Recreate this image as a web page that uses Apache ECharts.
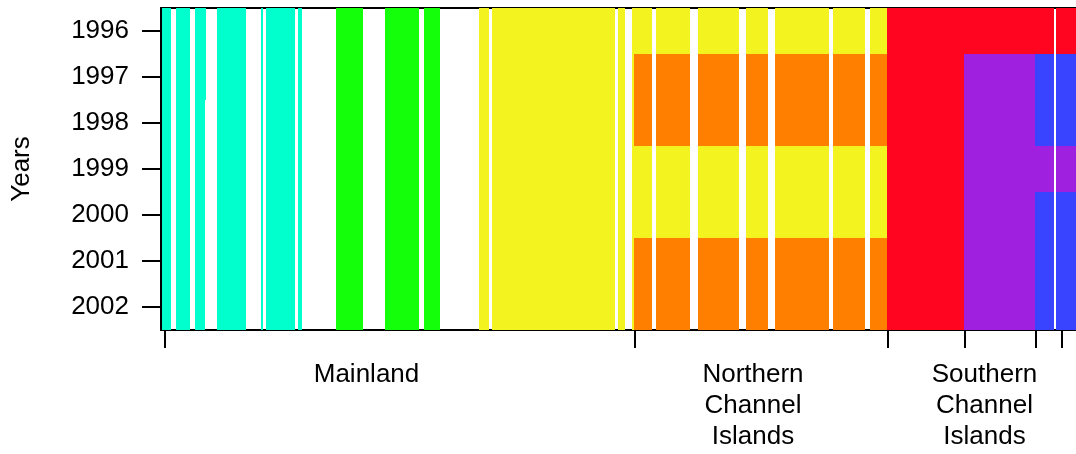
<!DOCTYPE html>
<html>
<head>
<meta charset="utf-8">
<script src="https://cdn.jsdelivr.net/npm/echarts@6/dist/echarts.min.js"></script>
<style>
html,body{margin:0;padding:0;background:#fff;}
#chart{width:1076px;height:454px;}
</style>
</head>
<body>
<div id="chart"></div>
<script>
// Years (rows, top to bottom)
var years = ['1996','1997','1998','1999','2000','2001','2002'];

// Site columns along the coast: start / end positions (arbitrary coast units) and pattern name
var colStart = [1, 15, 34, 44, 56, 100, 105, 137,
                175, 224, 263,
                318, 331, 457, 471,
                473, 495, 537, 585, 614, 672, 709,
                726,
                803,
                874, 895];
var colEnd   = [10, 29, 44, 45, 85, 102, 134, 141,
                202, 258, 279,
                328, 454, 464, 473,
                491, 529, 578, 607, 668, 704, 726,
                803,
                874,
                893, 915];
var colPattern = ['cyan','cyan','cyan','cyanTop','cyan','cyan','cyan','cyan',
                  'green','green','green',
                  'yellow','yellow','yellow','yellow',
                  'north','north','north','north','north','north','north',
                  'red',
                  'south1',
                  'south2','south2'];

// Group per year for each pattern (index into groupColors, -1 = no data)
var patterns = {
  cyan:    [0,0,0,0,0,0,0],
  cyanTop: [0,0,-1,-1,-1,-1,-1],
  green:   [1,1,1,1,1,1,1],
  yellow:  [2,2,2,2,2,2,2],
  north:   [2,3,3,2,2,3,3],
  red:     [4,4,4,4,4,4,4],
  south1:  [4,5,5,5,5,5,5],
  south2:  [4,6,6,5,6,6,6]
};
var groupColors = ['#00FFCC','#14FF0A','#F3F31F','#FF7F00','#FF0520','#A020E0','#3844FF'];

// Region boundary ticks and region labels
var boundaryTicks = [4, 474, 727, 804, 875, 901];
var regionPos = [205.5, 592, 823.5];
var regionNames = ['Mainland', 'Northern\nChannel\nIslands', 'Southern\nChannel\nIslands'];

var cells = [];
for (var i = 0; i < colStart.length; i++) {
  var p = patterns[colPattern[i]];
  for (var y = 0; y < years.length; y++) {
    if (p[y] >= 0) cells.push([colStart[i], colEnd[i], y, p[y]]);
  }
}

var font = '"Liberation Sans", Arial, Helvetica, sans-serif';
var chart = echarts.init(document.getElementById('chart'), null, {renderer: 'canvas'});
chart.setOption({
  animation: false,
  backgroundColor: '#ffffff',
  grid: {left: 161, right: 0, top: 8, bottom: 124, containLabel: false},
  xAxis: [{
    type: 'value', min: 0, max: 915, position: 'bottom',
    splitLine: {show: false},
    axisLine: {show: true, onZero: false, lineStyle: {color: '#000', width: 2}},
    axisTick: {show: true, length: 18, lineStyle: {color: '#000', width: 2}, customValues: boundaryTicks},
    axisLabel: {
      show: true, customValues: regionPos, margin: 29, hideOverlap: false,
      fontFamily: font, fontSize: 26, color: '#000', lineHeight: 31, align: 'center',
      formatter: function (v) {
        for (var k = 0; k < regionPos.length; k++) if (Math.abs(regionPos[k] - v) < 0.01) return regionNames[k];
        return '';
      }
    }
  }, {
    type: 'value', min: 0, max: 915, position: 'top',
    splitLine: {show: false},
    axisLine: {show: true, onZero: false, lineStyle: {color: '#000', width: 2}},
    axisTick: {show: false}, axisLabel: {show: false}
  }],
  yAxis: {
    type: 'category', data: years, inverse: true,
    name: 'Years', nameLocation: 'middle', nameGap: 126, nameRotate: 90,
    nameTextStyle: {fontFamily: font, fontSize: 26, color: '#000'},
    axisLine: {show: true, lineStyle: {color: '#000', width: 2}},
    axisTick: {show: true, alignWithLabel: true, length: 19, lineStyle: {color: '#000', width: 2}},
    axisLabel: {fontFamily: font, fontSize: 26, color: '#000', margin: 32},
    splitLine: {show: false}
  },
  series: [{
    type: 'custom',
    xAxisIndex: 0,
    data: cells,
    renderItem: function (params, api) {
      var p0 = api.coord([api.value(0), api.value(2)]);
      var p1 = api.coord([api.value(1), api.value(2)]);
      var h = api.size([0, 1])[1];
      return {
        type: 'rect',
        shape: {x: p0[0], y: p0[1] - h / 2, width: p1[0] - p0[0], height: h},
        style: {fill: groupColors[api.value(3)], stroke: null}
      };
    },
    z: 1
  }]
});
</script>
</body>
</html>
